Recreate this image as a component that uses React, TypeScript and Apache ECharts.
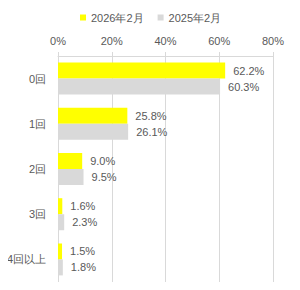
import React, { useEffect, useRef } from "react";
import * as echarts from "echarts";

const categories = ["0回", "1回", "2回", "3回", "4回以上"];
const series2026 = [62.2, 25.8, 9.0, 1.6, 1.5];
const series2025 = [60.3, 26.1, 9.5, 2.3, 1.8];
const seriesNames = ["2026年2月", "2025年2月"];
const xTicks = [0, 20, 40, 60, 80];

export default function App() {
  const ref = useRef<HTMLDivElement>(null);
  useEffect(() => {
    const chart = echarts.init(ref.current!, null, { renderer: "svg" });
    const font = "'Liberation Sans', Arial, sans-serif";
    const label = {
      show: true,
      position: "right" as const,
      distance: 8,
      color: "#595959",
      fontSize: 11,
      fontFamily: font,
      formatter: (p: any) => p.value.toFixed(1) + "%",
    };
    chart.setOption({
      animation: false,
      textStyle: { fontFamily: font },
      legend: {
        top: 7,
        left: 75,
        itemWidth: 6,
        itemHeight: 6,
        itemGap: 14,
        icon: "rect",
        textStyle: { color: "#595959", fontSize: 11, fontFamily: font },
        data: seriesNames,
      },
      grid: { left: 58, right: 27, top: 56, bottom: 8 },
      xAxis: {
        type: "value",
        position: "top",
        min: xTicks[0],
        max: xTicks[xTicks.length - 1],
        interval: 20,
        axisLine: { show: true, lineStyle: { color: "#D9D9D9" } },
        axisTick: { show: true, length: 4, lineStyle: { color: "#D9D9D9" } },
        splitLine: { show: true, lineStyle: { color: "#D9D9D9" } },
        axisLabel: {
          color: "#595959",
          fontSize: 11,
          fontFamily: font,
          margin: 10,
          formatter: (v: number) => v + "%",
        },
      },
      yAxis: {
        type: "category",
        inverse: true,
        data: categories,
        axisLine: { show: false },
        axisTick: { show: false },
        axisLabel: { color: "#595959", fontSize: 11, fontFamily: font, margin: 12 },
      },
      series: [
        {
          name: seriesNames[0],
          type: "bar",
          data: series2026,
          barWidth: 16,
          barGap: "0%",
          itemStyle: { color: "#FFFF00" },
          label,
        },
        {
          name: seriesNames[1],
          type: "bar",
          data: series2025,
          barWidth: 16,
          itemStyle: { color: "#D9D9D9" },
          label,
        },
      ],
    });
    return () => chart.dispose();
  }, []);
  return <div ref={ref} style={{ width: 300, height: 290, margin: -8 }} />;
}
